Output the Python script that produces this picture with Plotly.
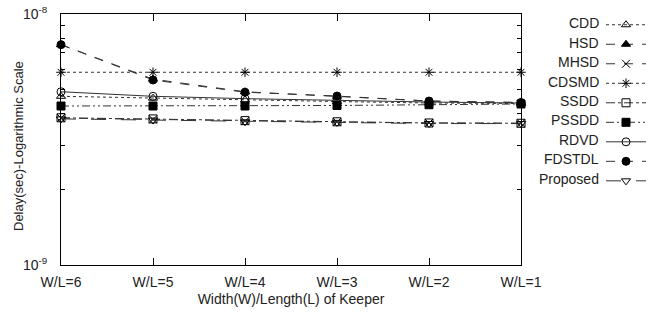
import plotly.graph_objects as go

categories = ["W/L=6", "W/L=5", "W/L=4", "W/L=3", "W/L=2", "W/L=1"]
x_pos = [0, 1, 2, 3, 4, 5]

series_names = ["CDD", "HSD", "MHSD", "CDSMD", "SSDD", "PSSDD", "RDVD", "FDSTDL", "Proposed"]
cdd = [4.70e-9, 4.62e-9, 4.55e-9, 4.48e-9, 4.42e-9, 4.40e-9]
hsd = [7.55e-9, 5.50e-9, 4.90e-9, 4.70e-9, 4.50e-9, 4.44e-9]
mhsd = [3.85e-9, 3.80e-9, 3.74e-9, 3.71e-9, 3.68e-9, 3.67e-9]
cdsmd = [5.86e-9, 5.86e-9, 5.86e-9, 5.86e-9, 5.86e-9, 5.86e-9]
ssdd = [3.86e-9, 3.82e-9, 3.76e-9, 3.72e-9, 3.68e-9, 3.67e-9]
pssdd = [4.30e-9, 4.30e-9, 4.30e-9, 4.32e-9, 4.35e-9, 4.38e-9]
rdvd = [4.90e-9, 4.70e-9, 4.60e-9, 4.52e-9, 4.46e-9, 4.42e-9]
fdstdl = [7.55e-9, 5.46e-9, 4.88e-9, 4.71e-9, 4.50e-9, 4.44e-9]
proposed = [3.82e-9, 3.78e-9, 3.72e-9, 3.70e-9, 3.66e-9, 3.66e-9]

y_tickvals = [1e-9, 1e-8]
y_ticktext = ["10<sup>-9</sup>", "10<sup>-8</sup>"]
y_minor = [2e-9, 3e-9, 4e-9, 5e-9, 6e-9, 7e-9, 8e-9, 9e-9]

data = [cdd, hsd, mhsd, cdsmd, ssdd, pssdd, rdvd, fdstdl, proposed]
styles = [
    ("dot", "triangle-up-open"),
    ("dash", "triangle-up"),
    ("dash", "x-thin-open"),
    ("dot", "asterisk-open"),
    ("dashdot", "square-open"),
    ("8px,3px,2px,3px,2px,3px", "square"),
    ("solid", "circle-open"),
    ("dash", "circle"),
    ("longdash", "triangle-down-open"),
]

FONT = "Liberation Sans, Arial, sans-serif"
TXT = "#222222"

W, H = 656, 324
L, R, T, B = 61, 135, 14, 59
PW, PH = W - L - R, H - T - B  # 460 x 251


def px(page_x):
    return (page_x - L) / PW


def py(page_y):
    return (H - B - page_y) / PH


fig = go.Figure()
for name, vals, (dash, sym) in zip(series_names, data, styles):
    fig.add_trace(go.Scatter(
        x=x_pos, y=vals, name=" ", mode="lines+markers",
        line=dict(color="#333333", width=1, dash=dash),
        marker=dict(symbol=sym, size=8, color="black",
                    line=dict(color="black", width=1)),
        cliponaxis=False, showlegend=True,
    ))

# legend labels (text left of symbol, as in the reference)
for i, name in enumerate(series_names):
    fig.add_annotation(
        x=px(601), y=py(23 + i * 19.5), xref="paper", yref="paper",
        text=name, showarrow=False, xanchor="right", yanchor="middle",
        font=dict(family=FONT, size=14, color=TXT),
    )

# y axis title
fig.add_annotation(
    x=px(18), y=py(146), xref="paper", yref="paper",
    text="Delay(sec)-Logarithmic Scale", textangle=-90, showarrow=False,
    xanchor="center", yanchor="middle",
    font=dict(family=FONT, size=13, color=TXT),
)

fig.update_layout(
    template="none",
    width=W, height=H,
    margin=dict(l=L, r=R, t=T, b=B, pad=0, autoexpand=False),
    plot_bgcolor="white", paper_bgcolor="white",
    font=dict(family=FONT, size=14, color=TXT),
    legend=dict(x=px(601), xanchor="left", y=py(10), yanchor="top",
                itemwidth=40, tracegroupgap=0, maxheight=1.0,
                bgcolor="rgba(0,0,0,0)", font=dict(size=12.7)),
    xaxis=dict(
        range=[0, 5], tickvals=x_pos, ticktext=categories, automargin=False,
        ticks="inside", ticklen=7, tickcolor="black", tickwidth=1,
        showline=True, linecolor="black", linewidth=1, mirror="ticks",
        showgrid=False, zeroline=False, ticklabelstandoff=4,
        title=dict(text="Width(W)/Length(L) of Keeper", standoff=5,
                   font=dict(size=14)),
    ),
    yaxis=dict(
        type="log", range=[-9, -8], tickvals=y_tickvals, ticktext=y_ticktext,
        automargin=False, ticklabeloverflow="allow",
        ticks="inside", ticklen=7, tickcolor="black", tickwidth=1,
        showline=True, linecolor="black", linewidth=1, mirror="ticks",
        showgrid=False, zeroline=False, ticklabelstandoff=10,
        tickfont=dict(size=14),
        minor=dict(tickvals=y_minor, ticks="inside", ticklen=4,
                   tickcolor="black", showgrid=False),
    ),
)

fig.write_html(
    "out.html",
    config={"displayModeBar": False},
    post_script="document.body.style.margin='0px';document.body.style.overflow='hidden';",
)
